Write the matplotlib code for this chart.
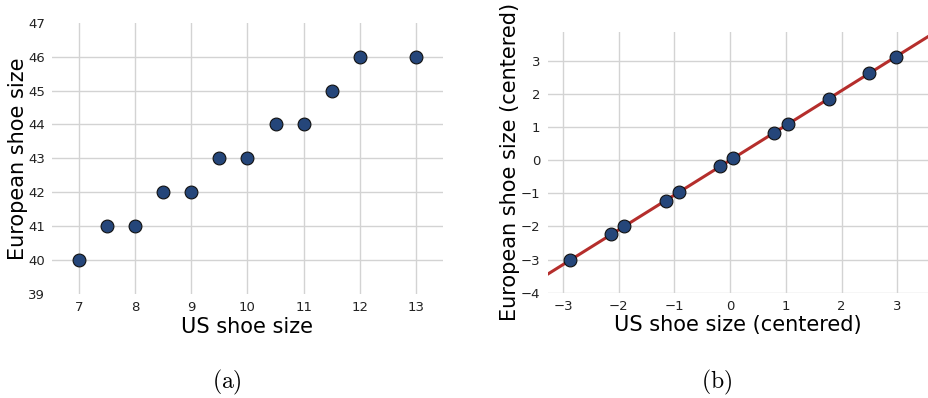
import numpy as np
import matplotlib
matplotlib.use("Agg")
import matplotlib.pyplot as plt

plt.rcParams['mathtext.fontset'] = 'cm'

# datos panel (a)
us_size = [7, 7.5, 8, 8.5, 9, 9.5, 10, 10.5, 11, 11.5, 12, 13]
eu_size = [40, 41, 41, 42, 42, 43, 43, 44, 44, 45, 46, 46]

# datos panel (b)
us_centered = [-2.87, -2.14, -1.90, -1.15, -0.92, -0.19, 0.05, 0.79, 1.03, 1.77, 2.50, 2.97]
eu_centered = [-3.00, -2.24, -2.00, -1.22, -0.96, -0.19, 0.06, 0.83, 1.08, 1.86, 2.63, 3.12]
pendiente = 1.05

azul = '#25467a'
rojo = '#b52e2c'
gris = '#d3d3d3'

W, H = 929, 398
fig = plt.figure(figsize=(W / 100, H / 100), dpi=100)

def estilo(ax):
    for s in ax.spines.values():
        s.set_visible(False)
    ax.tick_params(length=0, labelsize=9.5, colors='#222222', pad=5)
    ax.grid(True, color=gris, linewidth=1)
    ax.set_axisbelow(True)

# panel (a)
ax1 = fig.add_axes([52.3 / W, 1 - 294 / H, (442.7 - 52.3) / W, (294 - 22.7) / H])
ax1.scatter(us_size, eu_size, s=85, color=azul, edgecolor='#111111', linewidth=0.8, zorder=3)
ax1.set_xlim(6.52, 13.48)
ax1.set_ylim(39, 47)
ax1.set_xticks(range(7, 14))
ax1.set_yticks(range(39, 48))
estilo(ax1)
ticks = ax1.yaxis.get_major_ticks()
ticks[0].gridline.set_visible(False)
ticks[-1].gridline.set_visible(False)
ax1.set_xlabel('US shoe size', fontsize=15, labelpad=2)
ax1.set_ylabel('European shoe size', fontsize=15, labelpad=0)

# panel (b)
ax2 = fig.add_axes([547.5 / W, 1 - 292.7 / H, (929 - 547.5) / W, (292.7 - 32) / H])
ax2.axline((0, 0), slope=pendiente, color=rojo, linewidth=2.2, zorder=2)
ax2.scatter(us_centered, eu_centered, s=85, color=azul, edgecolor='#111111', linewidth=0.8, zorder=3)
ax2.set_xlim(-3.28, 3.57)
ax2.set_ylim(-4, 3.87)
ax2.set_xticks(range(-3, 4))
ax2.set_yticks(range(-4, 4))
estilo(ax2)
ax2.set_xlabel('US shoe size (centered)', fontsize=15, labelpad=2)
ax2.set_ylabel('European shoe size (centered)', fontsize=15, labelpad=1)

fig.text(227 / W, 1 - 382 / H, r'$\mathrm{(a)}$', fontsize=17, ha='center', va='center')
fig.text(717 / W, 1 - 382 / H, r'$\mathrm{(b)}$', fontsize=17, ha='center', va='center')

fig.savefig('out.png', dpi=100)
